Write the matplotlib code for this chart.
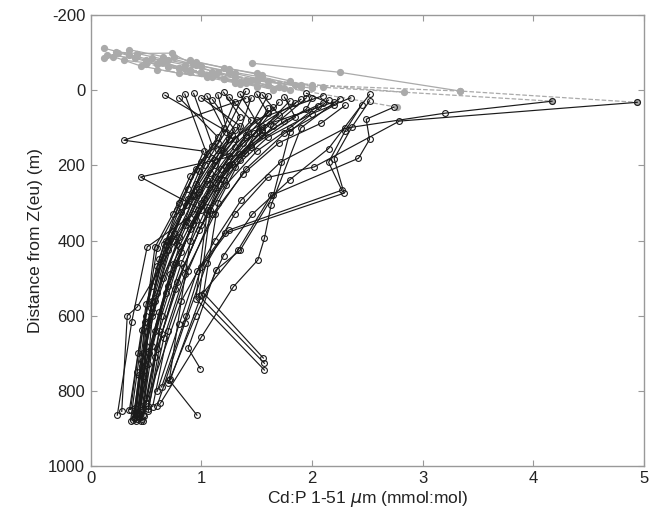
import matplotlib
matplotlib.use("Agg")
import matplotlib.pyplot as plt

plt.rcParams['font.family'] = ['Liberation Sans', 'DejaVu Sans']
plt.rcParams['axes.unicode_minus'] = False

# deep profiles (below Z(eu)): Cd:P ratio and distance from Z(eu)
black_x = [
    [2.20, 1.55, 1.25, 1.02, 0.80, 0.62, 0.48, 0.42],
    [2.10, 1.50, 1.18, 0.98, 0.74, 0.58, 0.46, 0.40],
    [1.90, 1.42, 1.12, 0.93, 0.78, 0.55, 0.44, 0.38],
    [0.67, 1.28, 1.05, 0.86, 0.60, 0.46, 0.35],
    [0.93, 1.10, 0.90, 0.74, 0.58, 0.49, 0.44],
    [2.30, 2.08, 1.70, 1.38, 1.10, 0.88, 0.70, 0.56],
    [1.40, 0.30, 1.02, 0.88, 0.68, 0.54, 0.45],
    [1.60, 1.39, 0.45, 1.00, 0.74, 0.52, 0.41],
    [2.52, 2.36, 2.20, 2.29, 1.21, 0.96, 0.80, 0.60],
    [2.45, 2.30, 2.15, 2.27, 1.25, 1.00, 0.86, 0.64],
    [2.74, 2.49, 2.52, 2.42, 1.63, 1.33, 1.00, 0.72],
    [4.94, 2.79, 2.02, 1.60, 1.30, 1.05, 0.85, 0.60],
    [4.17, 3.20, 2.30, 1.72, 1.36, 1.12, 0.82, 0.50],
    [2.52, 2.15, 1.80, 1.46, 1.20, 0.95, 0.70],
    [1.20, 1.35, 1.15, 0.95, 0.75, 0.55, 0.43, 0.36],
    [1.50, 1.60, 1.30, 1.08, 0.88, 0.65, 0.50, 0.42],
    [1.75, 1.85, 1.45, 1.20, 1.00, 0.78, 0.60, 0.47],
    [2.00, 1.95, 1.55, 1.25, 1.05, 0.82, 0.62, 0.50],
    [1.05, 1.20, 1.00, 0.80, 0.62, 0.52, 0.45],
    [1.30, 1.15, 0.95, 0.78, 0.60, 0.50, 0.40],
    [1.85, 1.62, 1.34, 1.12, 0.90, 0.68, 0.52, 0.45],
    [1.95, 1.65, 1.35, 1.15, 1.02, 1.56],
    [1.80, 1.55, 1.28, 1.08, 0.98, 1.57],
    [1.70, 1.48, 1.22, 1.05, 0.95, 1.57],
    [0.85, 1.05, 0.92, 0.70, 0.55, 0.48, 0.42],
    [1.15, 1.25, 1.08, 0.90, 0.71, 0.96],
    [1.60, 1.40, 1.12, 0.93, 0.51, 0.37, 0.24],
    [1.45, 1.30, 1.05, 0.85, 0.42, 0.33, 0.28],
    [2.25, 1.90, 1.63, 1.57, 1.51, 1.29, 1.00, 0.63],
    [2.15, 1.80, 1.65, 1.35, 1.13, 0.88, 0.99],
    [1.25, 1.45, 1.20, 0.98, 0.80, 0.60, 0.47, 0.40],
    [2.10, 1.75, 1.45, 1.18, 0.95, 0.72, 0.55, 0.44],
    [1.00, 1.35, 1.10, 0.88, 0.66, 0.50, 0.42, 0.36],
    [1.35, 1.55, 1.25, 1.00, 0.82, 0.64, 0.52],
    [1.10, 1.30, 1.12, 0.92, 0.72, 0.56, 0.46, 0.39],
    [1.55, 1.70, 1.38, 1.15, 0.92, 0.70, 0.53, 0.44],
    [1.95, 2.20, 1.75, 1.40, 1.12, 0.85, 0.66, 0.52],
    [0.80, 1.15, 0.98, 0.82, 0.64, 0.50, 0.41],
    [1.65, 1.40, 1.18, 0.97, 0.77, 0.58, 0.46],
    [2.05, 1.80, 1.50, 1.22, 0.98, 0.76, 0.58, 0.48],
    [1.40, 1.22, 1.03, 0.86, 0.70, 0.56, 0.47],
    [2.35, 2.00, 1.60, 1.30, 1.06, 0.84, 0.64, 0.52],
]
black_z = [
    [31, 95, 175, 290, 415, 590, 745, 868],
    [14, 78, 158, 262, 402, 560, 722, 858],
    [24, 112, 198, 282, 408, 602, 758, 878],
    [13, 118, 238, 348, 468, 638, 850],
    [8, 148, 228, 330, 418, 618, 872],
    [40, 88, 140, 222, 330, 480, 640, 842],
    [22, 133, 162, 262, 402, 580, 852],
    [48, 168, 231, 318, 462, 698, 880],
    [28, 98, 182, 274, 381, 482, 622, 802],
    [38, 108, 192, 266, 372, 470, 602, 790],
    [45, 77, 131, 181, 280, 426, 545, 770],
    [32, 82, 204, 232, 330, 460, 620, 840],
    [29, 61, 101, 190, 292, 400, 560, 832],
    [11, 155, 238, 330, 440, 600, 780],
    [5, 70, 160, 250, 380, 520, 700, 850],
    [10, 60, 130, 220, 350, 500, 680, 860],
    [18, 72, 150, 240, 360, 510, 690, 865],
    [20, 50, 120, 200, 310, 460, 640, 820],
    [15, 100, 190, 300, 450, 620, 840],
    [30, 140, 210, 320, 420, 600, 845],
    [35, 90, 170, 260, 370, 540, 730, 880],
    [20, 95, 185, 300, 540, 713],
    [28, 105, 195, 320, 548, 727],
    [32, 115, 205, 330, 555, 745],
    [10, 170, 280, 400, 560, 760, 875],
    [12, 130, 250, 400, 772, 865],
    [15, 120, 230, 330, 417, 617, 865],
    [20, 150, 250, 360, 577, 600, 855],
    [22, 100, 306, 394, 452, 523, 657, 833],
    [26, 110, 280, 426, 479, 687, 741],
    [18, 80, 165, 270, 390, 540, 700, 870],
    [33, 82, 145, 235, 345, 490, 680, 862],
    [20, 95, 180, 290, 410, 570, 750, 880],
    [10, 110, 200, 300, 430, 600, 840],
    [25, 105, 185, 275, 395, 565, 735, 872],
    [12, 65, 140, 235, 355, 520, 700, 858],
    [8, 40, 115, 210, 330, 490, 660, 848],
    [20, 125, 215, 325, 445, 640, 862],
    [45, 125, 210, 320, 460, 640, 876],
    [42, 100, 162, 252, 372, 530, 710, 866],
    [3, 110, 200, 305, 425, 590, 880],
    [20, 62, 125, 205, 320, 470, 650, 855],
]

# shallow profiles (above Z(eu)), gray; some dashed
gray_x = [
    [0.12, 0.35, 0.62, 0.90, 1.20, 1.50],
    [0.12, 0.25, 0.50, 0.80, 1.10, 1.40, 1.80],
    [0.23, 0.42, 0.70, 1.00, 1.30, 1.60, 2.00],
    [0.42, 0.73, 0.92, 1.10, 1.40, 1.70],
    [1.46, 2.25, 3.34],
    [0.50, 1.00, 1.50, 2.00, 2.83],
    [0.80, 1.30, 1.90, 3.34, 4.94],
    [0.60, 1.10, 1.70, 2.77],
    [0.30, 0.60, 0.90, 1.20, 1.60],
    [0.20, 0.45, 0.80, 1.05, 1.30],
    [0.55, 0.85, 1.15, 1.45, 1.90],
    [1.00, 1.50, 2.10, 4.17],
    [0.75, 0.95, 1.25, 1.55],
    [0.15, 0.40, 0.70, 1.00, 1.35, 1.65],
    [0.35, 0.65, 0.95, 1.25, 1.55, 1.85],
    [0.90, 1.20, 1.50, 1.80],
    [0.65, 0.85, 1.05, 1.35, 1.75],
]
gray_z = [
    [-112, -95, -75, -55, -30, -10],
    [-85, -100, -80, -60, -40, -20, 0],
    [-102, -98, -80, -65, -45, -25, -5],
    [-98, -99, -70, -50, -25, -8],
    [-72, -48, 2],
    [-70, -50, -30, -15, 5],
    [-60, -35, -15, 2, 32],
    [-55, -35, -10, 45],
    [-80, -70, -50, -30, -15],
    [-90, -65, -45, -35, -20],
    [-85, -68, -48, -28, -10],
    [-45, -25, -8, 29],
    [-88, -75, -58, -40],
    [-95, -85, -62, -45, -22, -2],
    [-108, -90, -68, -50, -35, -15],
    [-80, -60, -45, -25],
    [-75, -58, -40, -18, -5],
]
gray_dashed = [False, False, False, False, False, True, True, True,
               False, False, False, True, False, False, False, False, False]

fig = plt.figure(figsize=(6.53, 5.24), dpi=100)
ax = fig.add_axes([0.139, 0.111, 0.847, 0.86])

gcol = '#aaaaaa'
for xs, zs, dash in zip(gray_x, gray_z, gray_dashed):
    ax.plot(xs, zs, color=gcol, lw=0.9, ls='--' if dash else '-',
            marker='o', ms=4.2, mfc=gcol, mec=gcol, zorder=2)

for xs, zs in zip(black_x, black_z):
    ax.plot(xs, zs, color='#1a1a1a', lw=0.85, marker='o', ms=4.2,
            mfc='none', mec='#1a1a1a', mew=0.8, zorder=3)

ax.set_xlim(0, 5)
ax.set_ylim(1000, -200)
ax.set_xticks([0, 1, 2, 3, 4, 5])
ax.set_yticks([-200, 0, 200, 400, 600, 800, 1000])
ax.tick_params(direction='in', top=True, right=True, length=4,
               color='#999999', labelsize=12, pad=4, labelcolor='#222222')
for s in ax.spines.values():
    s.set_color('#999999')
    s.set_linewidth(1.0)

ax.set_xlabel(r'Cd:P 1-51 $\mu$m (mmol:mol)', fontsize=12.5, labelpad=2,
              color='#222222')
ax.set_ylabel('Distance from Z(eu) (m)', fontsize=12.5, labelpad=4,
              color='#222222')

fig.savefig('out.png', dpi=100)
